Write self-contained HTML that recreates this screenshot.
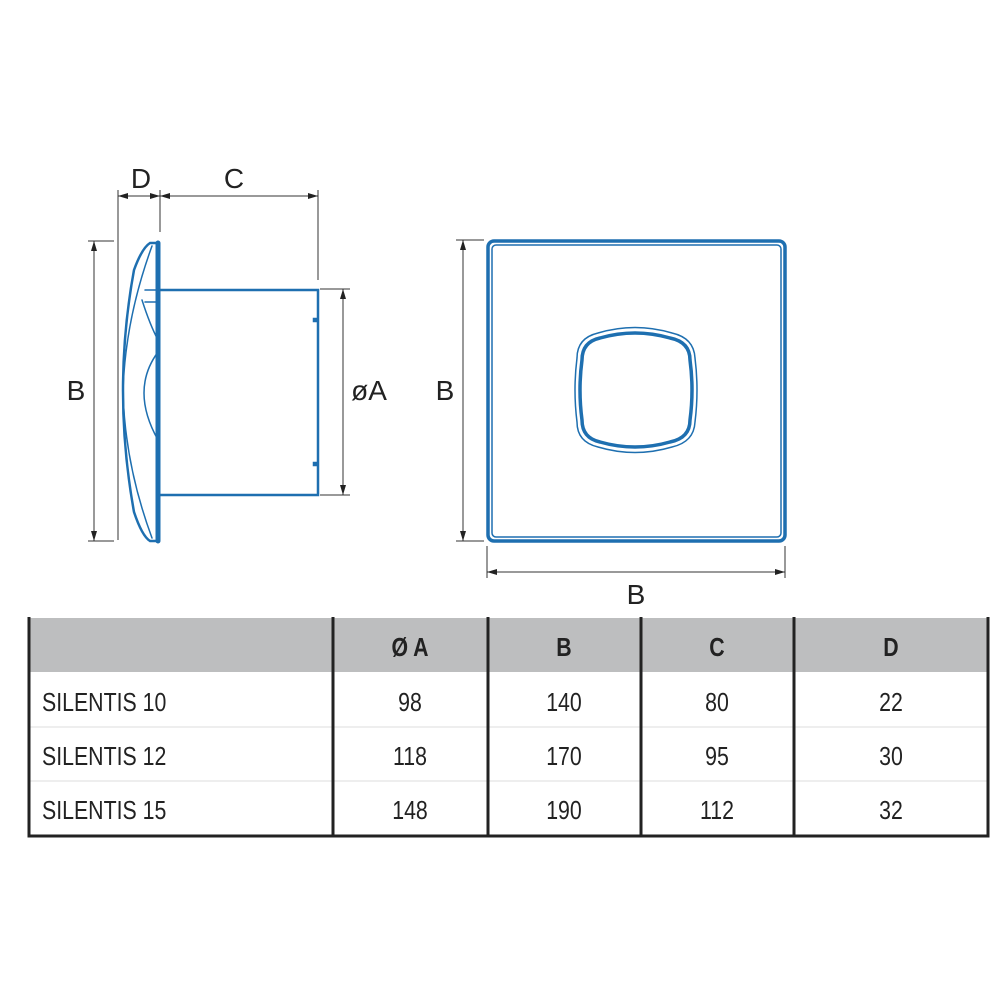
<!DOCTYPE html>
<html><head><style>body{margin:0;background:#fff}svg{display:block}</style></head><body>
<svg width="1000" height="1000" viewBox="0 0 1000 1000" xmlns="http://www.w3.org/2000/svg">
<defs>
<marker id="a" viewBox="0 0 10 6" refX="10" refY="3" markerWidth="10" markerHeight="6" orient="auto-start-reverse" markerUnits="userSpaceOnUse"><path d="M0,0L10,3L0,6z" fill="#222"/></marker>
</defs>
<g stroke="#333" stroke-width="1" fill="none">
<line x1="118" y1="190" x2="118" y2="540"/>
<line x1="160" y1="190" x2="160" y2="232"/>
<line x1="318" y1="190" x2="318" y2="280"/>
<line x1="118" y1="196" x2="160" y2="196" marker-start="url(#a)" marker-end="url(#a)"/>
<line x1="160" y1="196" x2="318" y2="196" marker-start="url(#a)" marker-end="url(#a)"/>
<line x1="88" y1="241" x2="114" y2="241"/><line x1="88" y1="541" x2="114" y2="541"/>
<line x1="94" y1="241" x2="94" y2="541" marker-start="url(#a)" marker-end="url(#a)"/>
<line x1="320" y1="289" x2="350" y2="289"/><line x1="320" y1="495" x2="350" y2="495"/>
<line x1="343" y1="289" x2="343" y2="495" marker-start="url(#a)" marker-end="url(#a)"/>
<line x1="456" y1="240" x2="484" y2="240"/><line x1="456" y1="541" x2="484" y2="541"/>
<line x1="463" y1="240" x2="463" y2="541" marker-start="url(#a)" marker-end="url(#a)"/>
<line x1="487" y1="546" x2="487" y2="578"/><line x1="785" y1="546" x2="785" y2="578"/>
<line x1="487" y1="572" x2="785" y2="572" marker-start="url(#a)" marker-end="url(#a)"/>
</g>
<g stroke="#1e6fb0" fill="none" stroke-linecap="round">
<line x1="158" y1="243" x2="158" y2="541" stroke-width="5"/>
<path d="M158,243 L150,243 Q142,248 134,270 Q112,390 134,512 Q142,536 150,541 L158,541" stroke-width="2.5"/>
<path d="M152,246 Q125,320 123,392 Q125,465 152,538" stroke-width="1.5"/>
<path d="M145,290 L158,290 M145,302 L158,302" stroke-width="1.5"/>
<path d="M142,300 Q150,325 158,340 M158,352 Q130,390 158,440" stroke-width="1.5"/>
<path d="M160,290 L318,290 L318,495 L160,495" stroke-width="2.5"/>
<rect x="313" y="318" width="5" height="4" fill="#1e6fb0" stroke-width="0.5"/>
<rect x="313" y="462" width="5" height="4" fill="#1e6fb0" stroke-width="0.5"/>
<rect x="488" y="241" width="297" height="300" rx="6" stroke-width="3.5"/>
<rect x="492" y="245" width="289" height="292" rx="4" stroke-width="1.5"/>
<path d="M600,338 Q635,328 670,338 Q690,342 690,360 Q694,390 690,420 Q690,438 670,442 Q635,452 600,442 Q582,438 582,420 Q578,390 582,360 Q582,342 600,338Z" stroke-width="3.5"/>
<path d="M598,333 Q635,322 672,333 Q694,338 695,358 Q699,390 695,422 Q694,442 672,447 Q635,458 598,447 Q577,442 577,422 Q573,390 577,358 Q577,338 598,333Z" stroke-width="1.5"/>
</g>
<g font-family="Liberation Sans, sans-serif" font-size="28" fill="#222" text-anchor="middle">
<text x="141" y="188">D</text><text x="234" y="188">C</text>
<text x="76" y="400">B</text><text x="369" y="400">øA</text>
<text x="445" y="400">B</text><text x="636" y="604">B</text>
</g>
<rect x="29" y="618" width="959" height="54" fill="#bdbebf"/>
<g stroke="#ddd" stroke-width="1"><line x1="29" y1="727" x2="988" y2="727"/><line x1="29" y1="781" x2="988" y2="781"/></g>
<g stroke="#222" stroke-width="3" fill="none">
<path d="M29,617 L29,836 L988,836 L988,617"/>
<line x1="333" y1="617" x2="333" y2="836"/><line x1="488" y1="617" x2="488" y2="836"/>
<line x1="641" y1="617" x2="641" y2="836"/><line x1="794" y1="617" x2="794" y2="836"/>
</g>
<g transform="scale(0.82 1)" font-family="Liberation Sans, sans-serif" font-size="26" fill="#222" text-anchor="middle">
<g font-weight="bold"><text x="500" y="656">Ø A</text><text x="687.8" y="656">B</text><text x="874.4" y="656">C</text><text x="1086.6" y="656">D</text></g>
<text x="500" y="711">98</text><text x="687.8" y="711">140</text><text x="874.4" y="711">80</text><text x="1086.6" y="711">22</text>
<text x="500" y="765">118</text><text x="687.8" y="765">170</text><text x="874.4" y="765">95</text><text x="1086.6" y="765">30</text>
<text x="500" y="819">148</text><text x="687.8" y="819">190</text><text x="874.4" y="819">112</text><text x="1086.6" y="819">32</text>
<g text-anchor="start"><text x="51.2" y="711">SILENTIS 10</text><text x="51.2" y="765">SILENTIS 12</text><text x="51.2" y="819">SILENTIS 15</text></g>
</g>
</svg>
</body></html>
